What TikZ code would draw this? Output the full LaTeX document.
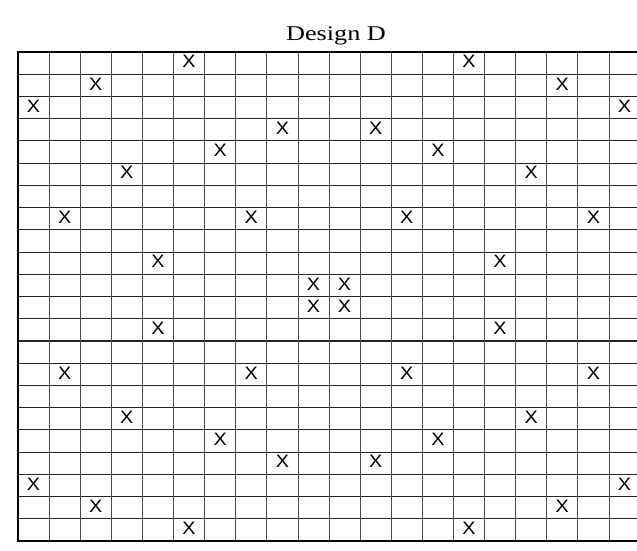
\documentclass[tikz,border=0pt]{standalone}
\usepackage{fontspec}
\setmainfont{Liberation Serif}
\newfontfamily\marksans{Liberation Sans}
\begin{document}
\begin{tikzpicture}[x=1pt,y=-1pt,
  hline/.style={line width=1.1pt,black!85},
  vline/.style={line width=0.7pt,black!70},
  frame/.style={line width=2.2pt,black},
  xmark/.style={inner sep=0pt,xscale=1.1,font=\marksans\fontsize{18}{18}\selectfont},
  title/.style={inner sep=0pt,xscale=1.25,font=\fontsize{21}{21}\selectfont,anchor=base}]
\useasboundingbox (0,0) rectangle (637,551);
\def\cw{31.1}
\def\rh{22.23}
\def\xo{18}
\def\yo{52}
% horizontal lines
\foreach \r in {1,...,21} {
  \draw[hline] (\xo,\yo+\r*\rh) -- (640,\yo+\r*\rh);
}
% vertical lines
\foreach \c in {1,...,19} {
  \draw[vline] (\xo+\c*\cw,\yo) -- (\xo+\c*\cw,\yo+22*\rh);
}
% frame (right side lies beyond the image)
\draw[frame] (640,\yo) -- (\xo,\yo) -- (\xo,\yo+22*\rh) -- (640,\yo+22*\rh);
\node[title] (t) at (336,41) {Design D};
% marks: row/column pairs
\foreach \r/\c in {0/5,0/14, 1/2,1/17, 2/0,2/19, 3/8,3/11, 4/6,4/13, 5/3,5/16,
  7/1,7/7,7/12,7/18, 9/4,9/15, 10/9,10/10, 11/9,11/10, 12/4,12/15,
  14/1,14/7,14/12,14/18, 16/3,16/16, 17/6,17/13, 18/8,18/11, 19/0,19/19,
  20/2,20/17, 21/5,21/14} {
  \node[xmark] (x\r-\c) at (\xo+\c*\cw+\cw/2,\yo+\r*\rh+\rh/2-1.5) {X};
}
\end{tikzpicture}
\end{document}
